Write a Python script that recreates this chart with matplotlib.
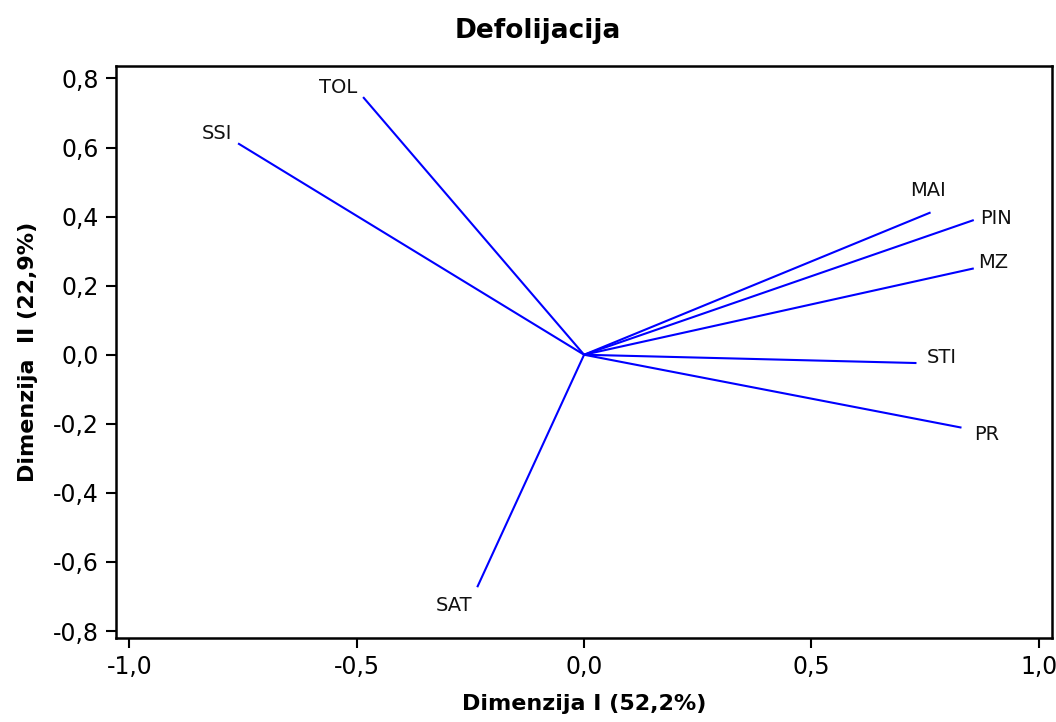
import numpy as np
import matplotlib
matplotlib.use('Agg')
import matplotlib.pyplot as plt

# loadings (Dimenzija I, Dimenzija II)
variables = ['TOL', 'SSI', 'MAI', 'PIN', 'MZ', 'STI', 'PR', 'SAT']
dim1 = [-0.486, -0.761, 0.762, 0.857, 0.857, 0.731, 0.830, -0.235]
dim2 = [0.746, 0.612, 0.412, 0.390, 0.250, -0.024, -0.211, -0.673]

xticks = [-1.0, -0.5, 0.0, 0.5, 1.0]
yticks = [-0.8, -0.6, -0.4, -0.2, 0.0, 0.2, 0.4, 0.6, 0.8]

# label offsets from line end (points)
label_offsets = {
    'TOL': (-18, 7), 'SSI': (-15, 7), 'MAI': (-2, 16), 'PIN': (16, 1),
    'MZ': (14, 4), 'STI': (18, 4), 'PR': (18, -5), 'SAT': (-17, -13),
}

plt.rcParams['font.family'] = ['DejaVu Sans']

fig = plt.figure(figsize=(10.56, 7.22), dpi=100)
ax = fig.add_axes([0.1096, 0.1159, 0.8866, 0.7927])

for name, x, y in zip(variables, dim1, dim2):
    ax.plot([0, x], [0, y], color='#0000ff', linewidth=1.5, solid_capstyle='butt')
    dx, dy = label_offsets[name]
    ax.annotate(name, xy=(x, y), xytext=(dx, dy), textcoords='offset points',
                ha='center', va='center', fontsize=14, color='#111111')

ax.set_xlim(-1.030, 1.029)
ax.set_ylim(-0.821, 0.836)
ax.set_xticks(xticks)
ax.set_yticks(yticks)
ax.set_xticklabels([f'{t:.1f}'.replace('.', ',') for t in xticks])
ax.set_yticklabels([f'{t:.1f}'.replace('.', ',') for t in yticks])
ax.tick_params(axis='both', direction='out', length=7, width=1.5, labelsize=17, pad=5)
for s in ax.spines.values():
    s.set_linewidth(1.8)

ax.set_xlabel('Dimenzija I (52,2%)', fontsize=16, fontweight='bold', labelpad=11)
ax.set_ylabel('Dimenzija  II (22,9%)', fontsize=16, fontweight='bold', labelpad=11)
fig.text(538 / 1056, 1 - 31 / 722, 'Defolijacija', ha='center', va='center',
         fontsize=19, fontweight='bold')

fig.savefig('out.png', dpi=100)
